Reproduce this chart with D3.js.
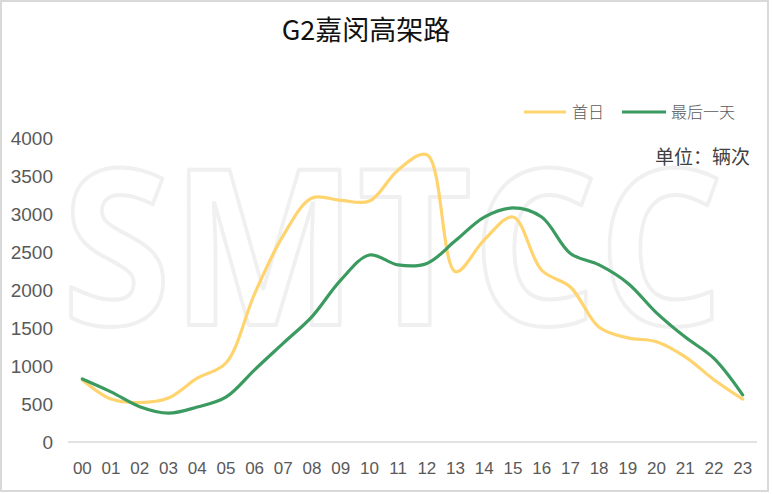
<!DOCTYPE html>
<html>
<head>
<meta charset="utf-8">
<script src="https://cdn.jsdelivr.net/npm/d3@7"></script>
<style>
  body { margin: 0; background: #fff; }
  svg { display: block; }
</style>
</head>
<body>
<script>
var hours = ["00","01","02","03","04","05","06","07","08","09","10","11","12","13","14","15","16","17","18","19","20","21","22","23"];
var firstDay = [815, 565, 520, 580, 840, 1040, 1950, 2720, 3210, 3180, 3170, 3580, 3780, 2240, 2660, 2960, 2260, 2040, 1510, 1370, 1320, 1120, 820, 565];
var lastDay = [830, 660, 465, 380, 460, 590, 950, 1300, 1650, 2130, 2460, 2330, 2350, 2650, 2960, 3080, 2960, 2480, 2330, 2090, 1700, 1380, 1100, 620];
var yTicks = [0, 500, 1000, 1500, 2000, 2500, 3000, 3500, 4000];
var seriesNames = ["首日", "最后一天"];

var w = 772, h = 494;
var margin = {top: 138, right: 15, bottom: 52, left: 68};

var svg = d3.select("body").append("svg")
  .attr("width", w)
  .attr("height", h);

// frame
svg.append("rect")
  .attr("x", 1).attr("y", 1)
  .attr("width", w - 5).attr("height", h - 4)
  .attr("fill", "#fff")
  .attr("stroke", "#d9d9d9")
  .attr("stroke-width", 2);

// watermark (hollow letters)
svg.append("text")
  .attr("x", 62).attr("y", 325)
  .attr("textLength", 662)
  .attr("lengthAdjust", "spacingAndGlyphs")
  .style("font-family", "Open Sans, Liberation Sans, Arial, sans-serif")
  .style("font-size", "218px")
  .style("font-weight", "bold")
  .attr("fill", "none")
  .attr("stroke", "#f0f0f0")
  .attr("stroke-width", 4)
  .attr("stroke-linejoin", "round")
  .text("SMTCC");

var x = d3.scaleBand()
  .domain(hours)
  .range([margin.left, w - margin.right]);

var y = d3.scaleLinear()
  .domain([0, 4000])
  .range([h - margin.bottom, margin.top]);

// title
svg.append("text")
  .attr("x", 366).attr("y", 40)
  .attr("text-anchor", "middle")
  .style("font-family", "Noto Sans CJK SC, sans-serif")
  .style("font-size", "27px")
  .attr("fill", "#111")
  .text("G2嘉闵高架路");

// y axis labels
svg.append("g").selectAll("text")
  .data(yTicks)
  .enter()
    .append("text")
    .attr("x", 53)
    .attr("y", (d) => y(d))
    .attr("dy", "0.35em")
    .attr("text-anchor", "end")
    .style("font-family", "Liberation Sans, Arial, sans-serif")
    .style("font-size", "19px")
    .attr("fill", "#595959")
    .text((d) => d);

// baseline
svg.append("line")
  .attr("x1", margin.left).attr("x2", w - margin.right)
  .attr("y1", y(0)).attr("y2", y(0))
  .attr("stroke", "#d9d9d9")
  .attr("stroke-width", 1.5);

// x labels
svg.append("g").selectAll("text")
  .data(hours)
  .enter()
    .append("text")
    .attr("x", (d) => x(d) + x.bandwidth() / 2)
    .attr("y", 468)
    .attr("dy", "0.35em")
    .attr("text-anchor", "middle")
    .style("font-family", "Liberation Sans Narrow, Liberation Sans, Arial, sans-serif")
    .style("font-size", "17px")
    .attr("fill", "#595959")
    .text((d) => d);

var line = d3.line()
  .x((d, i) => x(hours[i]) + x.bandwidth() / 2)
  .y((d) => y(d))
  .curve(d3.curveCatmullRom.alpha(0.5));

var colors = ["#ffd46e", "#3b9a5f"];
[firstDay, lastDay].forEach((s, i) => {
  svg.append("path")
    .datum(s)
    .attr("d", line)
    .attr("fill", "none")
    .attr("stroke", colors[i])
    .attr("stroke-width", 3.2)
    .attr("stroke-linecap", "round");
});

// legend
var legend = [
  {name: seriesNames[0], color: colors[0], x1: 524, x2: 566, tx: 572},
  {name: seriesNames[1], color: colors[1], x1: 622, x2: 666, tx: 671}
];
legend.forEach((l) => {
  svg.append("line")
    .attr("x1", l.x1).attr("x2", l.x2)
    .attr("y1", 112).attr("y2", 112)
    .attr("stroke", l.color)
    .attr("stroke-width", 3.2);
  svg.append("text")
    .attr("x", l.tx).attr("y", 112)
    .attr("dy", "0.35em")
    .style("font-family", "Noto Sans CJK SC, sans-serif")
    .style("font-size", "16px")
    .style("font-weight", 300)
    .attr("fill", "#595959")
    .text(l.name);
});

svg.append("text")
  .attr("x", 750).attr("y", 157)
  .attr("dy", "0.35em")
  .attr("text-anchor", "end")
  .style("font-family", "Noto Sans CJK SC, sans-serif")
  .style("font-size", "19px")
  .attr("fill", "#404040")
  .text("单位：辆次");
</script>
</body>
</html>
